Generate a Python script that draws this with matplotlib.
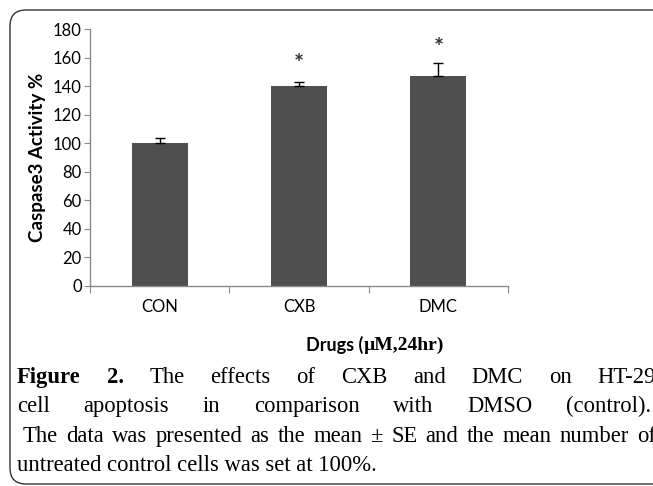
"""Caspase3 activity bar chart with justified figure caption."""

import matplotlib.pyplot as plt
import numpy as np
from matplotlib.patches import FancyBboxPatch

# --- Data ---
drugs = ["CON", "CXB", "DMC"]
activity = [100, 140, 147]
activity_se = [4, 3, 9]
significant = [False, True, True]
star_level = [None, 155, 166]

y_ticks = [0, 20, 40, 60, 80, 100, 120, 140, 160, 180]

caption_lines = [
    ["Figure", "2.", "The", "effects", "of", "CXB", "and", "DMC", "on", "HT-29"],
    ["cell", "apoptosis", "in", "comparison", "with", "DMSO", "(control)."],
    ["The", "data", "was", "presented", "as", "the", "mean", "\u00b1", "SE", "and",
     "the", "mean", "number", "of"],
]
caption_last = "untreated control cells was set at 100%."

W, H = 653, 486
BAR_COLOR = "#4f4f4f"
AXIS_COLOR = "#8a8a8a"
SANS = "Lato"
SERIF = "Liberation Serif"

fig = plt.figure(figsize=(W / 100, H / 100), dpi=100)
renderer = fig.canvas.get_renderer()

# background layer in pixel coordinates (border + caption)
bg = fig.add_axes([0, 0, 1, 1])
bg.set_xlim(0, W)
bg.set_ylim(H, 0)
bg.axis("off")
bg.add_patch(FancyBboxPatch((10, 10), 700, 474,
                            boxstyle="round,pad=0,rounding_size=16",
                            fill=False, edgecolor="#333333", linewidth=1.0))

# --- chart ---
ax = fig.add_axes([90 / W, (H - 286) / H, 418 / W, 257 / H])
x = np.arange(len(drugs))
ax.bar(x, activity, width=0.4, color=BAR_COLOR, zorder=2)
ax.errorbar(x, activity, yerr=[np.zeros(len(x)), activity_se], fmt="none",
            ecolor="black", elinewidth=1.0, capsize=3.5, capthick=1.0, zorder=3)
for xi, sig, lvl in zip(x, significant, star_level):
    if sig:
        ax.text(xi, lvl, "*", ha="center", va="center", fontsize=17,
                fontweight="bold", color="#333333", family=SANS)

ax.set_xlim(-0.5, 2.5)
ax.set_ylim(0, 180)
ax.set_yticks(y_ticks)
ax.set_yticklabels([str(v) for v in y_ticks], fontsize=12, family=SANS)
ax.set_xticks([-0.5, 0.5, 1.5, 2.5])
ax.set_xticklabels([])
ax.set_xticks(x, minor=True)
ax.set_xticklabels(drugs, minor=True, fontsize=12, family=SANS)
ax.tick_params(axis="x", which="minor", length=0, pad=9)
ax.tick_params(axis="x", which="major", length=5, color=AXIS_COLOR, direction="out")
ax.tick_params(axis="y", length=4, color=AXIS_COLOR, direction="out", pad=2)
for side in ["top", "right"]:
    ax.spines[side].set_visible(False)
for side in ["left", "bottom"]:
    ax.spines[side].set_color(AXIS_COLOR)
    ax.spines[side].set_linewidth(1.0)

bg.text(38, 157, "Caspase3 Activity %", rotation=90, ha="center", va="center",
        fontsize=13.5, fontweight="bold", family=SANS)

# x label: "Drugs (" in sans, unit part in serif (as in the original)
xl_a = bg.text(0, 345, "Drugs (", ha="left", va="center", fontsize=13,
               fontweight="bold", family=SANS)
xl_b = bg.text(0, 345, "\u00b5M,24hr)", ha="left", va="center", fontsize=14,
               fontweight="bold", family=SERIF)
wa = xl_a.get_window_extent(renderer).width
wb = xl_b.get_window_extent(renderer).width
x0 = 375 - (wa + wb) / 2
xl_a.set_x(x0)
xl_b.set_x(x0 + wa)

# --- caption, justified lines ---
CAP_SIZE = 16.3
line_y = [377, 406, 436, 465]
lefts = [17, 17, 23]
rights = [656, 651, 656]
for li, words in enumerate(caption_lines):
    texts = []
    for wi, w in enumerate(words):
        bold = li == 0 and wi < 2
        t = bg.text(0, line_y[li], w, ha="left", va="center", fontsize=CAP_SIZE,
                    family=SERIF, fontweight="bold" if bold else "normal")
        texts.append(t)
    widths = [t.get_window_extent(renderer).width for t in texts]
    gap = (rights[li] - lefts[li] - sum(widths)) / (len(words) - 1)
    pos = lefts[li]
    for t, wdt in zip(texts, widths):
        t.set_x(pos)
        pos += wdt + gap

bg.text(17, line_y[3], caption_last, ha="left", va="center",
        fontsize=CAP_SIZE, family=SERIF)

fig.savefig("out.png", dpi=100)
